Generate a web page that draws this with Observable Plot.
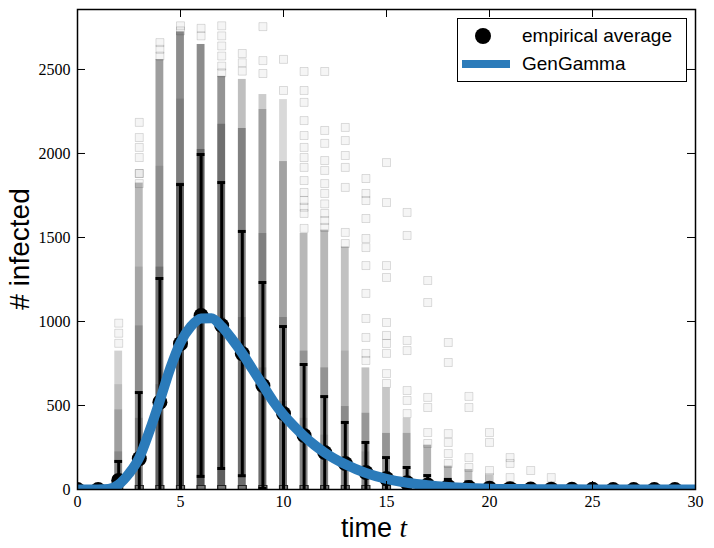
<!DOCTYPE html>
<html>
<head>
<meta charset="utf-8">
<script src="https://cdn.jsdelivr.net/npm/d3@7"></script>
<script src="https://cdn.jsdelivr.net/npm/@observablehq/plot@0.6"></script>
<style>
  html, body { margin: 0; padding: 0; background: white; }
  #wrap { position: relative; width: 714px; height: 548px; }
  #legend { position: absolute; left: 457px; top: 18px; width: 228px; height: 62px;
    border: 1.5px solid black; background: white; font-family: "Liberation Sans", Arial, sans-serif; font-size: 19px; }
  #legend .row { position: absolute; left: 0; height: 24px; line-height: 24px; }
  #legend .dot { position: absolute; left: 17px; top: 4px; width: 16px; height: 16px; border-radius: 50%; background: black; }
  #legend .ln { position: absolute; left: 4px; top: 8px; width: 48px; height: 8px; background: #2b7bba; }
  #legend .lab { position: absolute; left: 64px; top: 0; white-space: nowrap; }
</style>
</head>
<body>
<div id="wrap"></div>
<script>
// ---- data ----
const times = [0,1,2,3,4,5,6,7,8,9,10,11,12,13,14,15,16,17,18,19,20,21,22,23,24,25,26,27,28,29];
const means = [0,0,54,184,520,868,1036,976,809,619,452,321,220,155,101,65,40,27,18,12,8,5,3,2,1,1,0,0,0,0];
const stds  = [0,0,113,393,736,947,958,851,727,613,518,423,333,244,179,125,91,56,42,33,22,15,10,8,5,3,2,1,1,1];

// fitted GenGamma curve
const curveT = [0,0.5,1,1.5,2,2.5,3,3.5,4,4.5,5,5.5,6,6.5,7,7.5,8,8.5,9,9.5,10,10.5,11,11.5,12,13,14,15,16,17,18,19,20,22,24,26,28,30];
const curveV = [0,0,0,3,30,95,190,350,530,720,875,970,1018,1020,970,895,810,715,620,525,445,378,318,265,220,150,98,63,40,25,15,9,5,2,1,0,0,0];

// dense stacks of translucent squares: [t, low, high, opacity]
const bands = [
  [2,0,800,0.18],[2,0,600,0.1],[2,0,450,0.15],[2,0,200,0.15],
  [3,0,1800,0.28],[3,0,1300,0.1],[3,0,950,0.15],[3,0,400,0.15],
  [4,0,2535,0.38],[4,0,1900,0.1],[4,0,1300,0.2],[4,0,600,0.15],
  [5,0,2700,0.45],[5,0,2300,0.1],[5,0,1800,0.25],[5,0,900,0.15],
  [6,0,2625,0.45],[6,0,2000,0.3],[6,0,1000,0.15],
  [7,0,2435,0.42],[7,0,2150,0.25],[7,0,1000,0.15],
  [8,0,2417,0.25],[8,0,2125,0.32],[8,0,1000,0.15],
  [9,0,2327,0.2],[9,0,2238,0.22],[9,0,1500,0.2],[9,0,700,0.15],
  [10,0,2297,0.15],[10,0,1928,0.25],[10,0,1000,0.2],[10,0,500,0.1],
  [11,0,1500,0.28],[11,0,800,0.2],[11,0,400,0.1],
  [12,0,1520,0.28],[12,0,700,0.2],[12,0,300,0.1],
  [13,0,1420,0.24],[13,0,800,0.1],[13,0,470,0.2],
  [14,0,700,0.24],[14,0,430,0.22],[14,0,200,0.1],
  [15,0,580,0.22],[15,0,310,0.25],
  [16,0,400,0.2],[16,0,310,0.2],
  [17,0,240,0.3],
  [18,0,115,0.3],
  [19,0,95,0.25],
  [20,0,60,0.2]
];
// isolated squares: [t, value]
const sparse = [
  [2,990],[2,930],[2,870],
  [3,2185],[3,2095],[3,2036],[3,1976],[3,1881],[3,1881],[3,1821],
  [4,2660],[4,2620],[4,2580],
  [5,2760],[5,2730],
  [6,2745],[6,2700],
  [7,2760],[7,2700],[7,2640],[7,2580],[7,2520],[7,2480],
  [8,2595],[8,2540],[8,2490],
  [9,2755],[9,2553],[9,2476],
  [10,2560],[10,2375],
  [11,2488],[11,2375],[11,2304],[11,2196],[11,2107],[11,2036],[11,1976],[11,1917],[11,1839],[11,1768],[11,1720],[11,1680],[11,1643],[11,1554],
  [12,2488],[12,2137],[12,2060],[12,1958],[12,1899],[12,1821],[12,1762],[12,1700],[12,1643],[12,1601],[12,1560],
  [13,2155],[13,2077],[13,1988],[13,1917],[13,1798],[13,1530],[13,1464],
  [14,1851],[14,1762],[14,1720],[14,1613],[14,1494],[14,1440],[14,1333],[14,1167],[14,1018],[14,905],[14,810],[14,768],
  [15,1946],[15,1708],[15,1333],[15,1262],[15,994],[15,917],[15,869],[15,810],[15,690],[15,631],
  [16,1649],[16,1512],[16,887],[16,827],[16,589],[16,530],[16,452],
  [17,1244],[17,1113],[17,548],[17,488],[17,339],[17,274],
  [18,875],[18,756],[18,333],[18,280],[18,214],[18,155],
  [19,554],[19,488],[19,190],[19,131],
  [20,339],[20,280],[20,113],[20,71],
  [21,190],[21,155],[21,71],
  [22,113],
  [23,71]
];
const zeroT = [2,3,4,5,6,7,8,9,10,11,12,13,14,15,16,17,18,19,20,21,22];
const xTicks = [0,5,10,15,20,25,30];
const yTicks = [0,500,1000,1500,2000,2500];

// ---- build ----
const W = 714, H = 548, mL = 77, mR = 19, mT = 9, mB = 59;
const innerW = W - mL - mR, innerH = H - mT - mB;
const errRows = times.map((t, i) => ({t, m: means[i], s: stds[i]})).filter(d => d.s > 0);
const meanRows = times.map((t, i) => ({t, m: means[i]}));
const curveRows = curveT.map((t, i) => ({t, v: curveV[i]}));
const bandRows = bands.map(([t, lo, hi, op]) => ({t, lo, hi, op}));
const sparseRows = sparse.map(([t, v]) => ({t, v}));
const hw = 0.19; // half width of a square marker, in t units
const serif = "'Liberation Serif', 'Times New Roman', 'DejaVu Serif', serif";

const chart = Plot.plot({
  width: W, height: H,
  marginLeft: mL, marginRight: mR, marginTop: mT, marginBottom: mB,
  x: {domain: [0, 30]},
  y: {domain: [0, 2857]},
  style: {fontFamily: serif, fontSize: "16px", background: "white", color: "black"},
  marks: [
    Plot.rect(bandRows, {x1: d => d.t - hw, x2: d => d.t + hw, y1: "lo", y2: "hi",
      insetTop: -4, fill: "black", fillOpacity: "op", clip: true}),
    Plot.dot(sparseRows, {x: "t", y: "v", symbol: "square", r: 4.5, fill: "black", fillOpacity: 0.04,
      stroke: "black", strokeOpacity: 0.13, strokeWidth: 1, clip: true}),
    Plot.dot(zeroT, {x: d => d, y: () => 0, symbol: "square", r: 4.5, fill: "#777", stroke: "#222", strokeWidth: 1.2, clip: true}),
    Plot.ruleX(errRows, {x: "t", y1: d => d.m - d.s, y2: d => d.m + d.s, stroke: "black", strokeWidth: 3, clip: true}),
    Plot.ruleY(errRows, {y: d => d.m + d.s, x1: d => d.t - hw, x2: d => d.t + hw, stroke: "black", strokeWidth: 3, clip: true}),
    Plot.ruleY(errRows, {y: d => d.m - d.s, x1: d => d.t - hw, x2: d => d.t + hw, stroke: "black", strokeWidth: 3, clip: true}),
    Plot.dot(meanRows, {x: "t", y: "m", r: 7.5, fill: "black", clip: true}),
    Plot.line(curveRows, {x: "t", y: "v", stroke: "#2b7bba", strokeWidth: 10, curve: "monotone-x", clip: true}),
    // inward ticks on all four sides
    Plot.ruleX(xTicks, {x: d => d, insetTop: innerH - 8, stroke: "black", strokeWidth: 1}),
    Plot.ruleX(xTicks, {x: d => d, insetBottom: innerH - 8, stroke: "black", strokeWidth: 1}),
    Plot.ruleY(yTicks, {y: d => d, insetRight: innerW - 8, stroke: "black", strokeWidth: 1}),
    Plot.ruleY(yTicks, {y: d => d, insetLeft: innerW - 8, stroke: "black", strokeWidth: 1}),
    Plot.axisX(xTicks, {tickSize: 0, tickPadding: 6, label: null, tickFormat: d => String(d)}),
    Plot.axisY(yTicks, {tickSize: 0, tickPadding: 7, label: null, tickFormat: d => String(d)}),
    Plot.frame({stroke: "black", strokeWidth: 1.5})
  ]
});

const svg = d3.select(chart);
svg.selectAll("text").each(function() {
  this.style.setProperty("font-family", serif, "important");
  this.style.setProperty("font-size", "16px", "important");
});
svg.append("text")
  .attr("x", mL + innerW / 2 - 12).attr("y", 537)
  .attr("text-anchor", "middle")
  .style("font-family", "'Liberation Sans', Arial, sans-serif").style("font-size", "27px")
  .text("time ")
  .append("tspan").style("font-family", serif).style("font-style", "italic").style("font-size", "27px").text("t");
svg.append("text")
  .attr("transform", "translate(29,249) rotate(-90)")
  .attr("text-anchor", "middle")
  .style("font-family", "'Liberation Sans', Arial, sans-serif").style("font-size", "28px")
  .text("# infected");

const wrap = document.getElementById("wrap");
wrap.appendChild(chart);
const legend = document.createElement("div");
legend.id = "legend";
legend.innerHTML = `
  <div class="row" style="top:5px;width:100%"><span class="dot"></span><span class="lab">empirical average</span></div>
  <div class="row" style="top:33px;width:100%"><span class="ln"></span><span class="lab">GenGamma</span></div>`;
wrap.appendChild(legend);
</script>
</body>
</html>
